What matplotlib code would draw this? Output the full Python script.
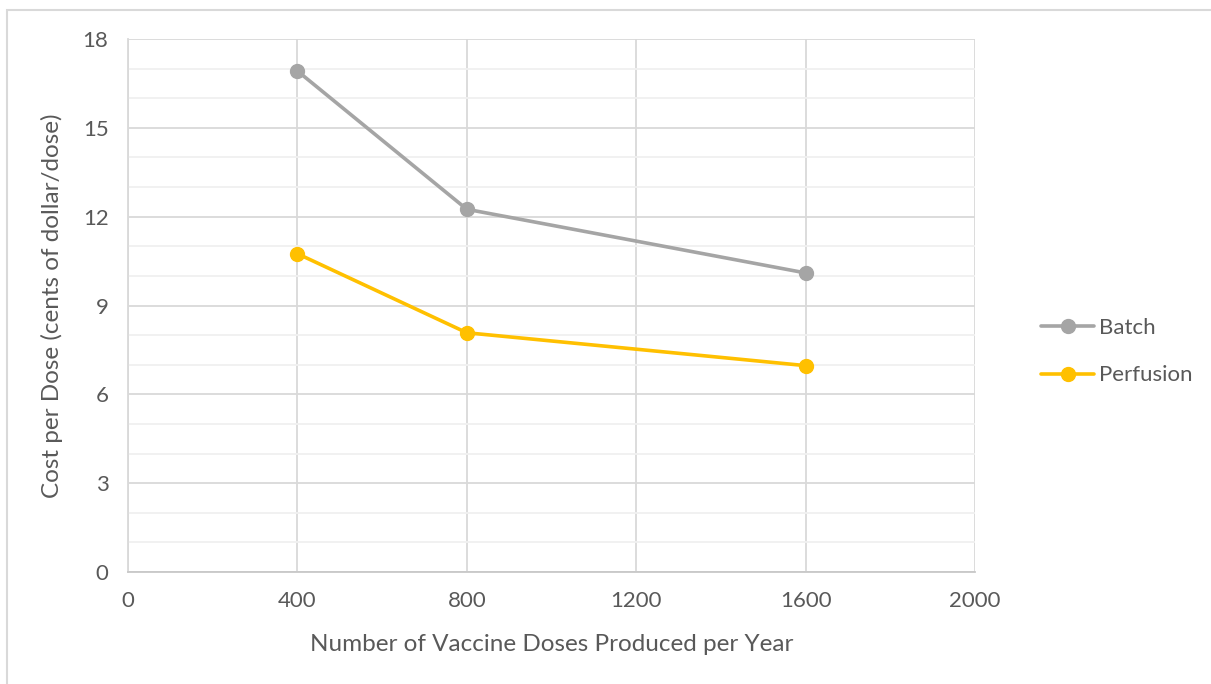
import matplotlib
matplotlib.use("Agg")
import matplotlib.pyplot as plt
from matplotlib.patches import Rectangle

# dosis producidas por año y costo por dosis (centavos de dólar)
doses = [400, 800, 1600]
batch = [16.92, 12.25, 10.1]
perfusion = [10.75, 8.08, 6.97]

x_ticks = [0, 400, 800, 1200, 1600, 2000]
y_ticks = [0, 3, 6, 9, 12, 15, 18]

TXT = "#595959"
plt.rcParams["font.family"] = ["Lato", "DejaVu Sans"]

fig = plt.figure(figsize=(12.11, 6.84), dpi=100)
ax = fig.add_axes([0.1057, 0.1637, 0.8051 - 0.1057, 0.943 - 0.1637])

ax.plot(doses, batch, color="#a5a5a5", lw=2.6, marker="o", ms=10, label="Batch",
        solid_capstyle="round", zorder=3)
ax.plot(doses, perfusion, color="#ffc000", lw=2.6, marker="o", ms=10, label="Perfusion",
        solid_capstyle="round", zorder=3)

ax.set_xlim(0, 2000)
ax.set_ylim(0, 18)
ax.set_xticks(x_ticks)
ax.set_yticks(y_ticks)
ax.set_yticks(range(0, 19), minor=True)
ax.grid(which="major", color="#d9d9d9", lw=1.3)
ax.grid(which="minor", axis="y", color="#f0f0f0", lw=1.3)
ax.set_axisbelow(True)
ax.tick_params(which="both", length=0, labelsize=16, labelcolor=TXT)
ax.tick_params(axis="x", pad=14)
ax.tick_params(axis="y", pad=14)
for s in ["top", "right"]:
    ax.spines[s].set_visible(False)
ax.spines["left"].set_color("#d9d9d9")
ax.spines["bottom"].set_color("#c8c8c8")
ax.spines["left"].set_linewidth(1.3)
ax.spines["bottom"].set_linewidth(1.3)

ax.set_xlabel("Number of Vaccine Doses Produced per Year", fontsize=17.5, color=TXT, labelpad=16)
ax.set_ylabel("Cost per Dose (cents of dollar/dose)", fontsize=17.5, color=TXT, labelpad=14)

fig.legend(loc="center left", bbox_to_anchor=(0.843, 0.486), frameon=False,
           fontsize=16, labelcolor=TXT, handlelength=2.4, handletextpad=0.2,
           labelspacing=1.25)

# marco del área del gráfico
fig.add_artist(Rectangle((7 / 1211, -0.1), 1.2, 1.1 - 10 / 684, transform=fig.transFigure,
                         fill=False, edgecolor="#d9d9d9", lw=1.5))

fig.savefig("out.png", dpi=100)
